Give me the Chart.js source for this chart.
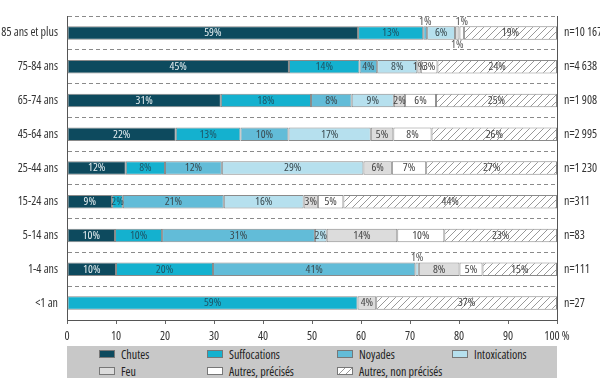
<!DOCTYPE html>
<html>
<head>
<meta charset="utf-8">
<script src="https://cdn.jsdelivr.net/npm/chart.js@4"></script>
<style>
  body { margin: 0; background: #fff; }
  #wrap { position: relative; width: 600px; height: 378px; }
  #legend {
    position: absolute; left: 67px; top: 346px; width: 490px; height: 32px;
    background: #c8c8c8; color: #222;
    font-family: 'Open Sans', sans-serif; font-stretch: condensed; font-size: 12px;
  }
  .item { position: absolute; display: flex; align-items: center; height: 14px; white-space: nowrap; }
  .sw { width: 16px; height: 8px; border: 1px solid #777; margin-right: 6px; box-sizing: border-box; }
</style>
</head>
<body>
<div id="wrap">
  <canvas id="chart" width="600" height="378"></canvas>
  <div id="legend"></div>
</div>
<script>
// categories (top to bottom)
const ageGroups = ["85 ans et plus", "75-84 ans", "65-74 ans", "45-64 ans", "25-44 ans", "15-24 ans", "5-14 ans", "1-4 ans", "<1 an"];
const effectifs = ["n=10 167", "n=4 638", "n=1 908", "n=2 995", "n=1 230", "n=311", "n=83", "n=111", "n=27"];

// % par type d'accident
const chutes            = [59.4, 45.3, 31.4, 22.2, 12.0, 9.2, 9.8, 10.0, 0];
const suffocations      = [13.3, 14.4, 18.4, 13.2, 8.0, 2.2, 9.6, 19.8, 59.3];
const noyades           = [0.8, 3.6, 8.3, 9.8, 11.6, 20.6, 31.2, 41.3, 0];
const intoxications     = [5.7, 8.2, 8.6, 16.8, 28.9, 16.3, 2.4, 0.7, 0];
const feu               = [0.9, 0.7, 2.3, 4.6, 5.8, 2.9, 14.4, 8.3, 3.8];
const autresPrecises    = [0.9, 3.4, 6.3, 7.8, 7.0, 5.2, 9.6, 4.7, 0];
const autresNonPrecises = [19.0, 24.4, 24.7, 25.6, 26.7, 43.6, 23.0, 15.2, 36.9];

const xTicks = [0, 10, 20, 30, 40, 50, 60, 70, 80, 90, 100];

const FAMILY = "'Open Sans', sans-serif";

// motif hachuré
const tile = document.createElement("canvas");
tile.width = 7; tile.height = 7;
const tctx = tile.getContext("2d");
tctx.fillStyle = "#fff";
tctx.fillRect(0, 0, 7, 7);
tctx.strokeStyle = "#999";
tctx.lineWidth = 1;
tctx.beginPath();
tctx.moveTo(0, 7); tctx.lineTo(7, 0);
tctx.moveTo(-1, 1); tctx.lineTo(1, -1);
tctx.moveTo(6, 8); tctx.lineTo(8, 6);
tctx.stroke();
const ctx = document.getElementById("chart").getContext("2d");
const hatch = ctx.createPattern(tile, "repeat");

const series = [
  { label: "Chutes", data: chutes, color: "#0d4a5e", text: "#e4eef1" },
  { label: "Suffocations", data: suffocations, color: "#14b1cf", text: "#1d5466" },
  { label: "Noyades", data: noyades, color: "#62bcd8", text: "#3a4a50" },
  { label: "Intoxications", data: intoxications, color: "#b6e0ee", text: "#3a4a50" },
  { label: "Feu", data: feu, color: "#dcdcdc", text: "#444" },
  { label: "Autres, précisés", data: autresPrecises, color: "#ffffff", text: "#444" },
  { label: "Autres, non précisés", data: autresNonPrecises, color: hatch, text: "#444" },
];

// étiquettes placées hors de la barre ("ligne-série")
const outside = { "0-2": "above", "0-4": "below", "0-5": "above", "7-3": "above" };

const valueLabels = {
  id: "valueLabels",
  afterDatasetsDraw(chart) {
    const c = chart.ctx;
    c.save();
    c.font = "condensed 11.5px " + FAMILY;
    c.textAlign = "center";
    c.textBaseline = "middle";
    chart.data.datasets.forEach((ds, i) => {
      const meta = chart.getDatasetMeta(i);
      meta.data.forEach((el, j) => {
        const v = ds.data[j];
        if (!v) return;
        const x = (el.x + el.base) / 2;
        let y = el.y;
        const pos = outside[j + "-" + i];
        c.fillStyle = series[i].text;
        if (pos === "above") { y = el.y - el.height / 2 - 5; c.fillStyle = "#555"; }
        if (pos === "below") { y = el.y + el.height / 2 + 5; c.fillStyle = "#555"; }
        c.fillText(Math.round(v) + "%", x, y);
      });
    });
    c.restore();
  },
};

const tickFont = { family: FAMILY, size: 12, weight: "condensed" };

new Chart(ctx, {
  type: "bar",
  data: {
    labels: ageGroups,
    datasets: series.map((s) => ({
      label: s.label,
      data: s.data,
      backgroundColor: s.color,
      borderColor: "#8a8a8a",
      borderWidth: 1,
      borderSkipped: false,
      barPercentage: 0.4,
      categoryPercentage: 1,
    })),
  },
  options: {
    indexAxis: "y",
    responsive: false,
    animation: false,
    layout: { padding: { top: 1, left: 0, right: 0, bottom: 0 } },
    plugins: { legend: { display: false }, tooltip: { enabled: false } },
    scales: {
      x: {
        stacked: true,
        min: 0,
        max: 100,
        afterBuildTicks(scale) { scale.ticks = xTicks.map((v) => ({ value: v })); },
        afterFit(scale) { scale.height = 58; },
        grid: { drawOnChartArea: false, drawTicks: true, tickLength: 4, color: "#666" },
        border: { display: true, color: "#555" },
        ticks: {
          padding: 5,
          color: "#333",
          font: tickFont,
          callback: (v) => (v === 100 ? "100 %" : v),
        },
      },
      y: {
        stacked: true,
        afterFit(scale) { scale.width = 67; },
        grid: { color: "#8a8a8a", drawTicks: false, offset: true },
        border: { display: true, color: "#555", dash: [4, 3] },
        ticks: { padding: 9, color: "#333", font: tickFont },
      },
      yRight: {
        type: "category",
        position: "right",
        labels: effectifs,
        offset: true,
        afterFit(scale) { scale.width = 43; },
        grid: { drawOnChartArea: false, drawTicks: false },
        border: { display: true, color: "#555" },
        ticks: { padding: 7, color: "#333", font: tickFont },
      },
    },
  },
  plugins: [valueLabels],
});

// légende HTML
const legendPos = [
  [32, 1], [140, 1], [270, 1], [385, 1],
  [32, 18], [140, 18], [270, 18],
];
const legend = document.getElementById("legend");
const hatchUrl = tile.toDataURL();
series.forEach((s, i) => {
  const item = document.createElement("div");
  item.className = "item";
  item.style.left = legendPos[i][0] + "px";
  item.style.top = legendPos[i][1] + "px";
  const sw = document.createElement("span");
  sw.className = "sw";
  if (typeof s.color === "string") sw.style.background = s.color;
  else sw.style.backgroundImage = "url(" + hatchUrl + ")";
  item.appendChild(sw);
  item.appendChild(document.createTextNode(s.label));
  legend.appendChild(item);
});
</script>
</body>
</html>
